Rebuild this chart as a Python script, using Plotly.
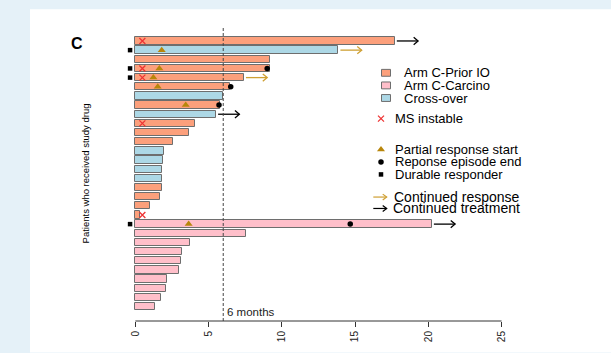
import plotly.graph_objects as go

# ---------------- data ----------------
rows = list(range(1, 31))
arm = (["Arm C-Prior IO", "Cross-over", "Arm C-Prior IO", "Arm C-Prior IO", "Arm C-Prior IO",
        "Arm C-Prior IO", "Cross-over", "Arm C-Prior IO", "Cross-over", "Arm C-Prior IO",
        "Arm C-Prior IO", "Arm C-Prior IO", "Cross-over", "Cross-over", "Cross-over",
        "Cross-over", "Arm C-Prior IO", "Arm C-Prior IO", "Arm C-Prior IO", "Arm C-Prior IO"]
       + ["Arm C-Carcino"] * 10)
months = [17.70, 13.85, 9.20, 9.18, 7.40, 6.48, 5.95, 5.80, 5.50, 4.08,
          3.64, 2.55, 1.96, 1.92, 1.83, 1.83, 1.82, 1.68, 0.98, 0.32,
          20.23, 7.55, 3.74, 3.19, 3.14, 2.97, 2.15, 2.07, 1.76, 1.37]

ms_instable_rows = [1, 4, 5, 10, 20]
pr_start_rows = [2, 4, 5, 6, 8, 21]
pr_start_months = [1.80, 1.64, 1.23, 1.53, 3.44, 3.64]
resp_end_rows = [4, 6, 8, 21]
resp_end_months = [9.00, 6.51, 5.71, 14.67]
durable_rows = [2, 4, 5, 21]
cont_response_rows = [2, 5]
cont_treatment_rows = [1, 9, 21]

x_ticks = [0, 5, 10, 15, 20, 25]
six_months = 6

arm_colors = {"Arm C-Prior IO": "#FCA07C", "Arm C-Carcino": "#FFBFCA", "Cross-over": "#ADD8E6"}
gold = "#B8860B"
gold_arrow = "#CFA033"
ms_red = "#EE3434"

# ---------------- layout geometry (pixels) ----------------
W, H = 611, 353
L, R, T, B = 110, 600, 20, 326
X_RANGE = [-1.73, 31.72]
Y_RANGE = [31.58, -1.29]
FONT = "Liberation Sans, Arial, Helvetica, sans-serif"


def px_x(px):
    return (px - L) / (R - L)


def px_y(py):
    return (B - py) / (B - T)


def data_x(px):
    return X_RANGE[0] + (px - L) / (R - L) * (X_RANGE[1] - X_RANGE[0])


def data_y(py):
    return Y_RANGE[1] + (py - T) / (B - T) * (Y_RANGE[0] - Y_RANGE[1])


fig = go.Figure()

# bars, one trace per arm
for name in ["Arm C-Prior IO", "Arm C-Carcino", "Cross-over"]:
    ys = [r for r, a in zip(rows, arm) if a == name]
    xs = [m for m, a in zip(months, arm) if a == name]
    fig.add_trace(go.Bar(
        x=xs, y=ys, orientation="h", width=0.8, base=0,
        marker=dict(color=arm_colors[name], line=dict(color="#6E6E6E", width=1)),
        showlegend=False, hoverinfo="skip"))

ms_marker = dict(symbol="x-thin-open", size=6, color=ms_red, line=dict(color=ms_red, width=1.3))

# MS instable crosses
MS_X = 0.48
fig.add_trace(go.Scatter(
    x=[MS_X] * len(ms_instable_rows), y=ms_instable_rows, mode="markers",
    marker=ms_marker, showlegend=False, hoverinfo="skip"))

# partial response start
fig.add_trace(go.Scatter(
    x=pr_start_months, y=pr_start_rows, mode="markers",
    marker=dict(symbol="triangle-up", size=7, color=gold),
    showlegend=False, hoverinfo="skip"))

# response episode end
fig.add_trace(go.Scatter(
    x=resp_end_months, y=resp_end_rows, mode="markers",
    marker=dict(symbol="circle", size=5.5, color="black"),
    showlegend=False, hoverinfo="skip"))

# durable responders, left of the axis
DURABLE_X = -0.36
fig.add_trace(go.Scatter(
    x=[DURABLE_X] * len(durable_rows), y=durable_rows, mode="markers",
    marker=dict(symbol="square", size=4.5, color="black"),
    showlegend=False, hoverinfo="skip", cliponaxis=False))

# continuation arrows after the bar end
GAP, LEN = 0.15, 1.45
HX, HY = 0.30, 0.40


def arrow_trace(row_list, color):
    xs, ys = [], []
    for r in row_list:
        end = months[r - 1]
        s, e = end + GAP, end + GAP + LEN
        xs += [s, e, None, e - HX, e, e - HX, None]
        ys += [r, r, None, r - HY, r, r + HY, None]
    return go.Scatter(x=xs, y=ys, mode="lines", line=dict(color=color, width=1.3),
                      showlegend=False, hoverinfo="skip")


fig.add_trace(arrow_trace(cont_response_rows, gold_arrow))
fig.add_trace(arrow_trace(cont_treatment_rows, "black"))

# ---------------- legend (manual) ----------------
shapes = []
annotations = []

# white panel
shapes.append(dict(type="rect", xref="paper", yref="paper", layer="below",
                   x0=px_x(30), x1=px_x(W + 5), y0=px_y(H + 5), y1=px_y(9),
                   fillcolor="white", line=dict(width=0)))

# 6-month reference
shapes.append(dict(type="line", xref="x", yref="paper", x0=six_months, x1=six_months,
                   y0=0, y1=px_y(28), line=dict(color="#444444", width=1, dash="3px,2px")))

# x axis line from 0 to 25
shapes.append(dict(type="line", xref="x", yref="paper", x0=x_ticks[0], x1=x_ticks[-1],
                   y0=0, y1=0, line=dict(color="#333333", width=1)))

leg_small = 13
leg_big = 14

for i, name in enumerate(["Arm C-Prior IO", "Arm C-Carcino", "Cross-over"]):
    cy = 73.7 + i * 12.8
    shapes.append(dict(type="rect", xref="paper", yref="paper",
                       x0=px_x(381.5), x1=px_x(390.5), y0=px_y(cy + 3.5), y1=px_y(cy - 3.5),
                       fillcolor=arm_colors[name], line=dict(color="#6E6E6E", width=1)))
    annotations.append(dict(x=px_x(401.5), y=px_y(cy), xref="paper", yref="paper",
                            text=name, showarrow=False, xanchor="left", yanchor="middle",
                            font=dict(size=leg_small, color="black", family=FONT)))

# symbol legend entries
sym_items = [
    (120.3, ms_marker, "MS instable"),
    (151.7, dict(symbol="triangle-up", size=7, color=gold), "Partial response start"),
    (164.3, dict(symbol="circle", size=5.5, color="black"), "Reponse episode end"),
    (177.0, dict(symbol="square", size=4.5, color="black"), "Durable responder"),
]
for cy, mk, label in sym_items:
    fig.add_trace(go.Scatter(x=[data_x(381)], y=[data_y(cy)], mode="markers", marker=mk,
                             showlegend=False, hoverinfo="skip", cliponaxis=False))
    annotations.append(dict(x=px_x(392.5), y=px_y(cy), xref="paper", yref="paper",
                            text=label, showarrow=False, xanchor="left", yanchor="middle",
                            font=dict(size=leg_small, color="black", family=FONT)))

# arrow legend entries
for cy, color, label, tx in [(200.0, gold_arrow, "Continued response", 392.0),
                             (211.6, "black", "Continued treatment", 390.8)]:
    x0, x1 = 373.3, 386.7
    shapes.append(dict(type="line", xref="paper", yref="paper",
                       x0=px_x(x0), x1=px_x(x1), y0=px_y(cy), y1=px_y(cy),
                       line=dict(color=color, width=1.2)))
    shapes.append(dict(type="path", xref="paper", yref="paper",
                       path=f"M {px_x(x1 - 4)} {px_y(cy - 3)} L {px_x(x1)} {px_y(cy)} L {px_x(x1 - 4)} {px_y(cy + 3)}",
                       line=dict(color=color, width=1.2)))
    annotations.append(dict(x=px_x(tx), y=px_y(cy), xref="paper", yref="paper",
                            text=label, showarrow=False, xanchor="left", yanchor="middle",
                            font=dict(size=leg_big, color="black", family=FONT)))

# panel letter
annotations.append(dict(x=px_x(77), y=px_y(43.5), xref="paper", yref="paper", text="<b>C</b>",
                        showarrow=False, xanchor="center", yanchor="middle",
                        font=dict(size=16, color="black", family=FONT)))

# y axis title
annotations.append(dict(x=px_x(85), y=px_y(176), xref="paper", yref="paper",
                        text="Patients who received study drug", textangle=-90,
                        showarrow=False, xanchor="center", yanchor="middle",
                        font=dict(size=9.5, color="black", family=FONT)))

# 6 months label
annotations.append(dict(x=px_x(224.5), y=px_y(316.7), xref="paper", yref="paper",
                        text="6 months", showarrow=False, xanchor="left", yanchor="middle",
                        font=dict(size=11.5, color="#222222", family=FONT)))

fig.update_layout(
    width=W, height=H,
    margin=dict(l=L, r=W - R, t=T, b=H - B, pad=0),
    paper_bgcolor="#E5F1F8", plot_bgcolor="white",
    barmode="overlay", bargap=0,
    shapes=shapes, annotations=annotations,
    font=dict(family=FONT, color="black"),
    xaxis=dict(range=X_RANGE, tickvals=x_ticks, ticktext=[str(t) for t in x_ticks],
               ticks="outside", ticklen=5, tickwidth=1, tickcolor="#333333",
               tickangle=-90, tickfont=dict(size=10, color="#222222", family=FONT),
               showgrid=False, zeroline=False, showline=False, fixedrange=True),
    yaxis=dict(range=Y_RANGE, showticklabels=False, ticks="", showgrid=False,
               zeroline=False, showline=False, fixedrange=True),
)

fig.write_html("out.html")
